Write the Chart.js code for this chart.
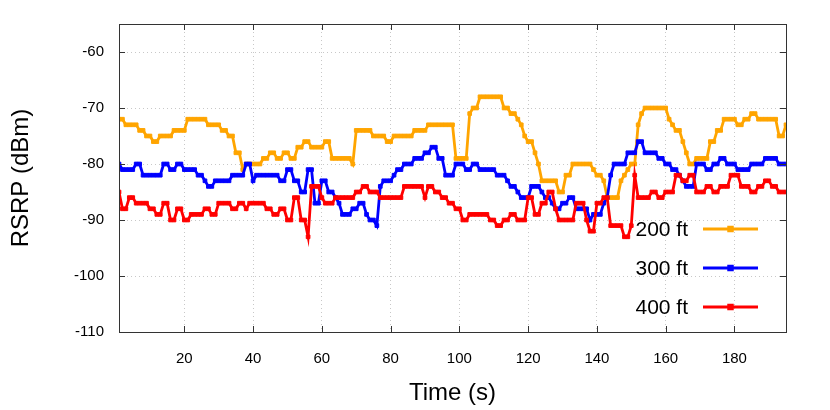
<!DOCTYPE html>
<html>
<head>
<meta charset="utf-8">
<script src="https://cdn.jsdelivr.net/npm/chart.js@4.4.0/dist/chart.umd.min.js"></script>
<style>
  html, body { margin: 0; padding: 0; background: #fff; }
</style>
</head>
<body>
<canvas id="myChart" width="830" height="410"></canvas>
<script>
// RSRP samples, one per second (t = 1 .. 195 s)
const rsrp200 = [
  -72,-72,-73,-73,-73,-73,-74,-74,-75,-75,
  -76,-76,-75,-75,-75,-75,-74,-74,-74,-74,
  -72,-72,-72,-72,-72,-72,-73,-73,-73,-73,
  -74,-74,-75,-75,-78,-78,-81,-80,-80,-80,
  -80,-80,-79,-79,-78,-78,-79,-79,-78,-78,
  -79,-79,-77,-77,-76,-76,-77,-77,-77,-77,
  -76,-76,-79,-79,-79,-79,-79,-79,-80,-74,
  -74,-74,-74,-74,-75,-75,-75,-75,-76,-76,
  -75,-75,-75,-75,-75,-75,-74,-74,-74,-74,
  -73,-73,-73,-73,-73,-73,-73,-73,-79,-79,
  -79,-79,-71,-70,-70,-68,-68,-68,-68,-68,
  -68,-68,-70,-70,-71,-71,-72,-73,-75,-76,
  -76,-78,-80,-83,-83,-83,-83,-83,-85,-85,
  -82,-82,-80,-80,-80,-80,-80,-80,-81,-82,
  -82,-83,-86,-86,-86,-86,-83,-82,-81,-80,
  -80,-73,-71,-70,-70,-70,-70,-70,-70,-70,
  -72,-73,-74,-74,-76,-78,-80,-80,-79,-79,
  -79,-79,-76,-76,-74,-74,-72,-72,-72,-72,
  -73,-73,-72,-72,-71,-71,-72,-72,-72,-72,
  -72,-72,-75,-75,-73
];

const rsrp300 = [
  -80,-81,-81,-81,-81,-80,-80,-82,-82,-82,
  -82,-82,-82,-80,-80,-81,-81,-80,-80,-81,
  -81,-81,-81,-82,-82,-83,-84,-84,-83,-83,
  -83,-83,-83,-82,-82,-82,-82,-80,-80,-83,
  -82,-82,-82,-82,-82,-82,-82,-83,-83,-81,
  -81,-83,-83,-85,-85,-81,-81,-87,-87,-83,
  -83,-85,-85,-86,-87,-89,-89,-89,-88,-88,
  -87,-87,-89,-90,-90,-91,-84,-83,-83,-83,
  -82,-81,-81,-80,-80,-80,-79,-79,-79,-78,
  -78,-77,-77,-79,-79,-82,-82,-82,-80,-80,
  -80,-81,-81,-80,-80,-81,-81,-81,-81,-81,
  -82,-82,-82,-83,-84,-84,-85,-86,-86,-86,
  -84,-84,-84,-85,-86,-86,-87,-88,-88,-87,
  -87,-86,-86,-88,-88,-88,-88,-90,-89,-89,
  -89,-87,-86,-82,-80,-80,-80,-80,-78,-78,
  -78,-76,-76,-78,-78,-78,-78,-79,-79,-80,
  -80,-81,-81,-82,-83,-84,-84,-84,-80,-80,
  -80,-81,-81,-80,-80,-79,-79,-80,-80,-80,
  -81,-81,-81,-81,-80,-80,-80,-80,-79,-79,
  -79,-79,-80,-80,-80
];

const rsrp400 = [
  -85,-88,-88,-86,-86,-87,-87,-87,-87,-88,
  -88,-89,-89,-87,-87,-90,-90,-88,-88,-90,
  -90,-89,-89,-89,-89,-88,-88,-89,-89,-87,
  -87,-87,-87,-88,-88,-87,-87,-88,-87,-87,
  -87,-87,-87,-88,-88,-89,-89,-88,-88,-90,
  -90,-86,-86,-90,-90,-93,-84,-84,-84,-86,
  -87,-87,-87,-86,-86,-86,-86,-86,-86,-85,
  -85,-84,-84,-85,-85,-85,-86,-86,-86,-86,
  -86,-86,-86,-84,-84,-84,-84,-84,-84,-86,
  -84,-84,-85,-85,-86,-86,-87,-87,-88,-88,
  -90,-90,-89,-89,-89,-89,-89,-89,-90,-90,
  -91,-91,-90,-90,-89,-89,-90,-90,-90,-86,
  -86,-89,-89,-87,-87,-85,-85,-88,-90,-90,
  -90,-90,-90,-87,-87,-87,-90,-92,-92,-87,
  -87,-86,-86,-91,-91,-91,-91,-93,-93,-91,
  -82,-86,-86,-86,-86,-85,-85,-86,-86,-85,
  -85,-85,-82,-82,-83,-83,-82,-82,-85,-85,
  -85,-84,-84,-85,-85,-84,-84,-84,-82,-82,
  -82,-84,-84,-84,-85,-85,-84,-84,-83,-83,
  -84,-84,-85,-85,-85
];

const seriesNames = ['200 ft', '300 ft', '400 ft'];
const seriesColors = ['#ffa500', '#0000ff', '#ff0000'];
const xTicks = [20, 40, 60, 80, 100, 120, 140, 160, 180];
const yTicks = [-110, -100, -90, -80, -70, -60];

// sample times in seconds
const times = rsrp200.map(function(_, i) { return i + 1; });

function toPoints(values) {
  return values.map(function(v, i) { return { x: times[i], y: v }; });
}

const FONT = "'Liberation Sans', Arial, Helvetica, sans-serif";

// box round the plot with gnuplot style inward ticks
const framePlugin = {
  id: 'frame',
  afterDraw(chart) {
    const ctx = chart.ctx;
    const a = chart.chartArea;
    const xs = chart.scales.x, ys = chart.scales.y;
    ctx.save();
    ctx.strokeStyle = '#333';
    ctx.lineWidth = 1;
    ctx.beginPath();
    xTicks.forEach(function(v) {
      const px = Math.round(xs.getPixelForValue(v)) + 0.5;
      ctx.moveTo(px, a.bottom); ctx.lineTo(px, a.bottom - 6);
      ctx.moveTo(px, a.top); ctx.lineTo(px, a.top + 6);
    });
    yTicks.forEach(function(v) {
      const py = Math.round(ys.getPixelForValue(v)) + 0.5;
      ctx.moveTo(a.left, py); ctx.lineTo(a.left + 6, py);
      ctx.moveTo(a.right, py); ctx.lineTo(a.right - 6, py);
    });
    ctx.stroke();
    ctx.strokeRect(Math.round(a.left) + 0.5, Math.round(a.top) + 0.5,
      Math.round(a.right - a.left), Math.round(a.bottom - a.top));
    ctx.restore();
  }
};

// key at lower right, text left of the sample line
const keyPlugin = {
  id: 'key',
  afterDraw(chart) {
    const ctx = chart.ctx;
    const a = chart.chartArea;
    const offsets = [103, 64, 25];
    ctx.save();
    chart.data.datasets.forEach(function(ds, i) {
      const y = a.bottom - offsets[i];
      ctx.font = '21px ' + FONT;
      ctx.fillStyle = '#000';
      ctx.textAlign = 'right';
      ctx.textBaseline = 'middle';
      ctx.fillText(ds.label, a.right - 98, y + 1);
      ctx.strokeStyle = ds.borderColor;
      ctx.lineWidth = ds.borderWidth;
      ctx.beginPath();
      ctx.moveTo(a.right - 83, y);
      ctx.lineTo(a.right - 28, y);
      ctx.stroke();
      ctx.fillStyle = ds.borderColor;
      Chart.helpers.drawPoint(ctx, {
        pointStyle: ds.pointStyle, radius: ds.pointRadius,
        rotation: 0, borderWidth: 1
      }, a.right - 55.5, y);
    });
    ctx.restore();
  }
};

const datasets = [rsrp200, rsrp300, rsrp400].map(function(vals, i) {
  return {
    label: seriesNames[i],
    data: toPoints(vals),
    borderColor: seriesColors[i],
    backgroundColor: seriesColors[i],
    borderWidth: 2.8,
    pointStyle: 'rect',
    pointRadius: 2.6,
    pointBorderWidth: 1,
    tension: 0,
    order: 2 - i
  };
});

const ctx = document.getElementById('myChart').getContext('2d');
const myChart = new Chart(ctx, {
  type: 'line',
  data: { datasets: datasets },
  options: {
    responsive: false,
    animation: false,
    layout: { padding: { top: 24, right: 44, left: 0, bottom: 0 } },
    plugins: {
      legend: { display: false },
      tooltip: { enabled: false }
    },
    scales: {
      x: {
        type: 'linear',
        min: 1,
        max: 195,
        afterBuildTicks: function(s) { s.ticks = xTicks.map(function(v) { return { value: v }; }); },
        afterFit: function(s) { s.height = 78; },
        grid: { color: '#c8c8c8', lineWidth: 1, drawTicks: false },
        border: { display: false, dash: [1, 3] },
        ticks: { color: '#000', font: { family: FONT, size: 15 }, padding: 18, maxRotation: 0 },
        title: { display: true, text: 'Time (s)', color: '#000',
          font: { family: FONT, size: 24 }, padding: { top: 0, bottom: 2 } }
      },
      y: {
        min: -110,
        max: -55,
        afterBuildTicks: function(s) { s.ticks = yTicks.map(function(v) { return { value: v }; }); },
        afterFit: function(s) { s.width = 119; },
        grid: { color: '#c8c8c8', lineWidth: 1, drawTicks: false },
        border: { display: false, dash: [1, 3] },
        ticks: { color: '#000', font: { family: FONT, size: 15 }, padding: 15 },
        title: { display: true, text: 'RSRP (dBm)', color: '#000',
          font: { family: FONT, size: 24 }, padding: { top: 7, bottom: 0 } }
      }
    }
  },
  plugins: [framePlugin, keyPlugin]
});
</script>
</body>
</html>
